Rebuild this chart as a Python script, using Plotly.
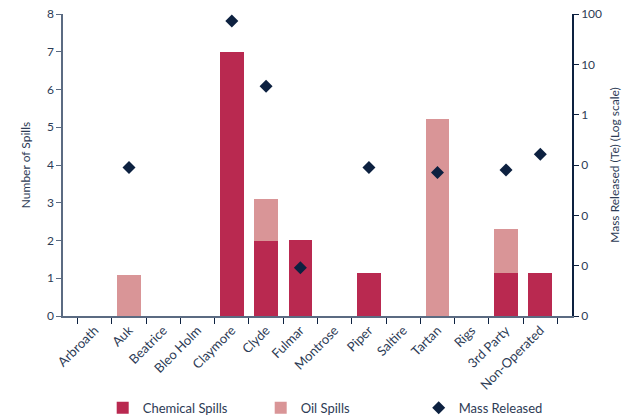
import plotly.graph_objects as go

categories = ["Arbroath", "Auk", "Beatrice", "Bleo Holm", "Claymore", "Clyde", "Fulmar",
              "Montrose", "Piper", "Saltire", "Tartan", "Rigs", "3rd Party", "Non-Operated"]
chemical_spills = [0, 0, 0, 0, 7.0, 2.0, 2.02, 0, 1.13, 0, 0, 0, 1.13, 1.13]
oil_spills = [0, 1.08, 0, 0, 0, 1.1, 0, 0, 0, 0, 5.22, 0, 1.18, 0]
mass_released = [None, 0.089, None, None, 73, 3.66, 0.00091, None, 0.089, None, 0.071, None, 0.080, 0.163]
right_tickvals = [0.0001, 0.001, 0.01, 0.1, 1, 10, 100]
right_ticktext = ["0", "0", "0", "0", "1", "10", "100"]

navy = "#0d2140"
axis_grey = "#5b6b82"
text_col = "#2d3b55"
font_family = "Source Sans Pro, Lato, Noto Sans, sans-serif"

fig = go.Figure()
fig.add_trace(go.Bar(x=categories, y=chemical_spills, name="Chemical Spills",
                     marker=dict(color="#b92950", line=dict(width=0))))
fig.add_trace(go.Bar(x=categories, y=oil_spills, name="Oil Spills",
                     marker=dict(color="#d99597", line=dict(width=0))))
fig.add_trace(go.Scatter(x=categories, y=mass_released, name="Mass Released", mode="markers",
                         yaxis="y2", marker=dict(symbol="diamond", size=10, color=navy)))

fig.update_layout(
    width=630, height=417,
    margin=dict(l=63, r=58, t=14, b=101),
    barmode="stack", bargap=0.31,
    plot_bgcolor="white", paper_bgcolor="white",
    font=dict(family=font_family, size=12, color=text_col),
    showlegend=True,
    legend=dict(orientation="h", x=0.078, xref="paper", y=0.022, yref="container",
                yanchor="middle", xanchor="left",
                traceorder="normal", entrywidth=113, bgcolor="rgba(0,0,0,0)",
                font=dict(size=13, color=text_col)),
    xaxis=dict(showline=True, linecolor=axis_grey, linewidth=1.5, ticks="outside",
               tickson="boundaries", ticklen=6, tickcolor=navy, tickangle=-45,
               tickfont=dict(size=13, color=text_col), showgrid=False, automargin=False),
    yaxis=dict(range=[0, 8], dtick=1, showline=True, linecolor=axis_grey, linewidth=1.5,
               ticks="outside", ticklen=5, tickcolor=axis_grey, showgrid=False, zeroline=False,
               automargin=False,
               title=dict(text="Number of Spills", font=dict(size=12), standoff=14),
               tickfont=dict(size=12, color=text_col)),
    yaxis2=dict(type="log", range=[-4, 2], overlaying="y", side="right",
                tickvals=right_tickvals, ticktext=right_ticktext,
                showline=True, linecolor=navy, linewidth=1.5, ticks="outside", ticklen=5,
                tickcolor=navy, showgrid=False, zeroline=False, automargin=False,
                title=dict(text="Mass Released (Te) (Log scale)", font=dict(size=12), standoff=10),
                tickfont=dict(size=12, color=text_col)),
)

fig.write_html("out.html")
